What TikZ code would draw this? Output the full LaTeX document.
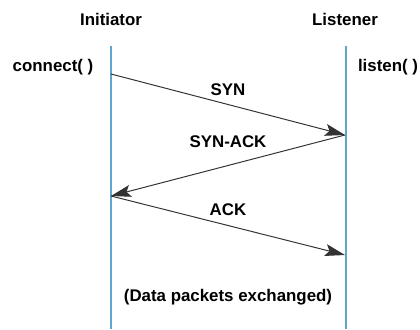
\documentclass[tikz,border=0pt]{standalone}
\usepackage{fontspec}
\setmainfont{Liberation Sans}
\usetikzlibrary{arrows.meta}

\definecolor{lifeblue}{RGB}{95,165,205}
\tikzset{
  lifeline/.style={lifeblue, line width=1.3pt},
  msg/.style={black!80, line width=0.7pt, -{Stealth[length=0.5cm, width=0.3cm, inset=0.1cm]}},
  lbl/.style={font=\fontsize{12}{14}\selectfont\bfseries, inner sep=0pt}
}

\begin{document}
\begin{tikzpicture}[x=0.025cm, y=-0.025cm]
\useasboundingbox (0,0) rectangle (420,329);

% parties
\node[lbl] (initiator) at (111,19) {Initiator};
\node[lbl] (listener) at (345,19) {Listener};
\node[lbl] (connect) at (53,67) {connect( )};
\node[lbl] (listen) at (388,67) {listen( )};

% lifelines
\coordinate (itop) at (111,46);
\coordinate (ibot) at (111,329);
\coordinate (ltop) at (346,46);
\coordinate (lbot) at (346,329);
\draw[lifeline] (itop) -- (ibot);
\draw[lifeline] (ltop) -- (lbot);

% handshake
\coordinate (syn-s) at (111,74);
\coordinate (syn-e) at (345,135);
\coordinate (ack-s) at (111,196);
\coordinate (ack-e) at (345,255);
\draw[msg] (syn-s) -- (syn-e);
\draw[msg] (syn-e) -- (ack-s);
\draw[msg] (ack-s) -- (ack-e);

\node[lbl] (syn) at (228,90) {SYN};
\node[lbl] (synack) at (228,142) {SYN-ACK};
\node[lbl] (ack) at (228,210) {ACK};
\node[lbl] (data) at (228,297) {(Data packets exchanged)};

\end{tikzpicture}
\end{document}
